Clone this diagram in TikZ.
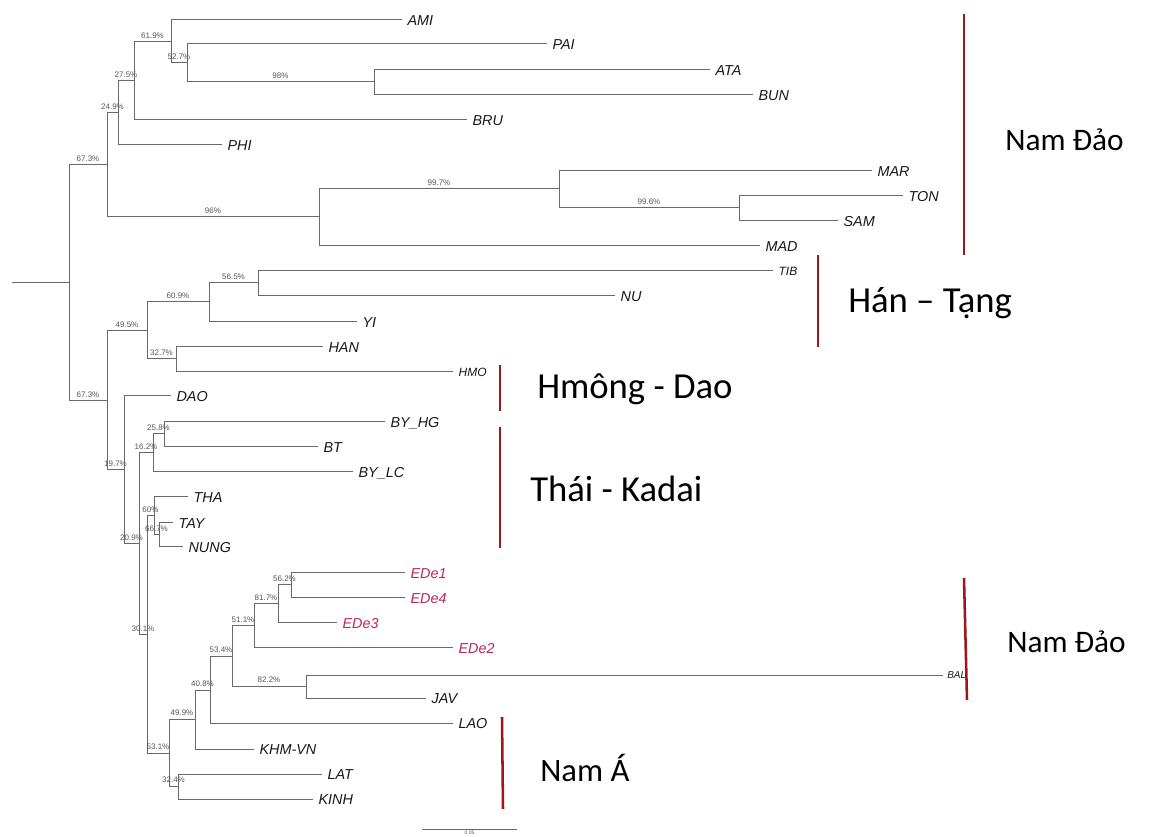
\documentclass[tikz,border=0pt]{standalone}
\usepackage{fontspec}
\setmainfont{Liberation Sans}
\newfontfamily\groupfont{Carlito}
\definecolor{treegray}{RGB}{105,105,105}
\definecolor{leafblack}{RGB}{25,25,25}
\definecolor{bootgray}{RGB}{85,85,85}
\definecolor{edecol}{RGB}{185,40,95}
\definecolor{barred}{RGB}{160,20,30}
\tikzset{
  br/.style={draw=treegray, line width=0.75pt},
  leaf/.style={anchor=west, inner xsep=4pt, inner ysep=0pt,
    font=\itshape\fontsize{10.8}{12}\selectfont, text=leafblack,
    text height=7.7pt, text depth=0pt},
  smallleaf/.style={leaf, font=\itshape\fontsize{9}{11}\selectfont, text height=6.4pt},
  tinyleaf/.style={leaf, font=\itshape\fontsize{7.5}{9}\selectfont, text height=5.4pt, inner xsep=3pt},
  ede/.style={leaf, text=edecol},
  boot/.style={font=\fontsize{6}{7}\selectfont, text=bootgray, inner sep=0pt,
    anchor=south, yshift=2.2pt},
  groupbar/.style={draw=barred, line width=1.9pt},
  grouplabel/.style={font=\groupfont\fontsize{27.5}{31}\selectfont, text=black,
    anchor=west, inner sep=0pt},
  narrowlabel/.style={grouplabel, font=\groupfont\fontsize{23.5}{28}\selectfont},
}
\begin{document}
\begin{tikzpicture}[x=0.75pt, y=-0.75pt]
\useasboundingbox[fill=white] (0,0) rectangle (1150,837);

% ---------- internal nodes of the tree ----------
\coordinate (rs) at (12,283);
\coordinate (r)  at (69,283);
% upper clade
\coordinate (n1) at (107,165);
\coordinate (n2) at (118,113);
\coordinate (n3) at (134,81);
\coordinate (n4) at (171,42);
\coordinate (n5) at (187,63);
\coordinate (n6) at (374,82);
\coordinate (n7) at (319,217);
\coordinate (n8) at (559,189);
\coordinate (n9) at (739,208);
% lower clade
\coordinate (m1)  at (107,401);
\coordinate (m2)  at (147,331);
\coordinate (m3)  at (209,302);
\coordinate (m4)  at (258,283);
\coordinate (m5)  at (176,359);
\coordinate (m6)  at (124,470);
\coordinate (m7)  at (139,544);
\coordinate (m8)  at (153,453);
\coordinate (m9)  at (164,434);
\coordinate (m10) at (147,635);
\coordinate (m11) at (154,516);
\coordinate (m12) at (159,535);
\coordinate (m13) at (169,753);
\coordinate (m14) at (195,719);
\coordinate (m15) at (210,690);
\coordinate (m16) at (232,656);
\coordinate (m17) at (254,626);
\coordinate (m18) at (278,604);
\coordinate (m19) at (291,585);
\coordinate (m20) at (306,686);
\coordinate (m21) at (178,786);

% ---------- taxa ----------
\node[leaf] (AMI) at (402,20)  {AMI};
\node[leaf] (PAI) at (547,44)  {PAI};
\node[leaf] (ATA) at (710,70)  {ATA};
\node[leaf] (BUN) at (753,95)  {BUN};
\node[leaf] (BRU) at (467,120) {BRU};
\node[leaf] (PHI) at (222,145) {PHI};
\node[leaf] (MAR) at (872,171) {MAR};
\node[leaf] (TON) at (903,196) {TON};
\node[leaf] (SAM) at (838,221) {SAM};
\node[leaf] (MAD) at (760,246) {MAD};
\node[smallleaf] (TIB) at (773,271) {TIB};
\node[leaf] (NU)  at (615,296) {NU};
\node[leaf] (YI)  at (357,322) {YI};
\node[leaf] (HAN) at (323,347) {HAN};
\node[smallleaf] (HMO) at (453,372) {HMO};
\node[leaf] (DAO) at (171,396) {DAO};
\node[leaf] (BYHG) at (385,422) {BY\_HG};
\node[leaf] (BT)  at (318,447) {BT};
\node[leaf] (BYLC) at (353,472) {BY\_LC};
\node[leaf] (THA) at (188,497) {THA};
\node[leaf] (TAY) at (173,523) {TAY};
\node[leaf] (NUNG) at (183,547) {NUNG};
\node[ede] (EDe1) at (405,573) {EDe1};
\node[ede] (EDe4) at (405,598) {EDe4};
\node[ede] (EDe3) at (337,623) {EDe3};
\node[ede] (EDe2) at (453,648) {EDe2};
\node[tinyleaf] (BAL) at (943,675) {BAL};
\node[leaf] (JAV) at (426,698) {JAV};
\node[leaf] (LAO) at (453,723) {LAO};
\node[leaf] (KHM) at (254,749) {KHM-VN};
\node[leaf] (LAT) at (322,774) {LAT};
\node[leaf] (KINH) at (313,799) {KINH};

% ---------- branches with bootstrap support ----------
\draw[br] (rs) -- (r);
\draw[br] (r) |- (n1) node[boot, pos=0.75] {67.3\%};
\draw[br] (r) |- (m1) node[boot, pos=0.75] {67.3\%};

\draw[br] (n1) |- (n2) node[boot, pos=0.75] {24.9\%};
\draw[br] (n1) |- (n7) node[boot, pos=0.75] {96\%};
\draw[br] (n2) |- (n3) node[boot, pos=0.75] {27.5\%};
\draw[br] (n2) |- (PHI.west);
\draw[br] (n3) |- (n4) node[boot, pos=0.75] {61.9\%};
\draw[br] (n3) |- (BRU.west);
\draw[br] (n4) |- (AMI.west);
\draw[br] (n4) |- (n5) node[boot, pos=0.75] {52.7\%};
\draw[br] (n5) |- (PAI.west);
\draw[br] (n5) |- (n6) node[boot, pos=0.75] {98\%};
\draw[br] (n6) |- (ATA.west);
\draw[br] (n6) |- (BUN.west);
\draw[br] (n7) |- (n8) node[boot, pos=0.75] {99.7\%};
\draw[br] (n7) |- (MAD.west);
\draw[br] (n8) |- (MAR.west);
\draw[br] (n8) |- (n9) node[boot, pos=0.75] {99.6\%};
\draw[br] (n9) |- (TON.west);
\draw[br] (n9) |- (SAM.west);

\draw[br] (m1) |- (m2) node[boot, pos=0.75] {49.5\%};
\draw[br] (m1) |- (m6) node[boot, pos=0.75] {19.7\%};
\draw[br] (m2) |- (m3) node[boot, pos=0.75] {60.9\%};
\draw[br] (m2) |- (m5) node[boot, pos=0.75] {32.7\%};
\draw[br] (m3) |- (m4) node[boot, pos=0.75] {56.5\%};
\draw[br] (m3) |- (YI.west);
\draw[br] (m4) |- (TIB.west);
\draw[br] (m4) |- (NU.west);
\draw[br] (m5) |- (HAN.west);
\draw[br] (m5) |- (HMO.west);
\draw[br] (m6) |- (DAO.west);
\draw[br] (m6) |- (m7) node[boot, pos=0.75] {20.9\%};
\draw[br] (m7) |- (m8) node[boot, pos=0.75] {16.2\%};
\draw[br] (m7) |- (m10) node[boot, pos=0.75] {30.1\%};
\draw[br] (m8) |- (m9) node[boot, pos=0.75] {25.8\%};
\draw[br] (m8) |- (BYLC.west);
\draw[br] (m9) |- (BYHG.west);
\draw[br] (m9) |- (BT.west);
\draw[br] (m10) |- (m11) node[boot, pos=0.75] {60\%};
\draw[br] (m10) |- (m13) node[boot, pos=0.75] {53.1\%};
\draw[br] (m11) |- (THA.west);
\draw[br] (m11) |- (m12) node[boot, pos=0.75] {66.7\%};
\draw[br] (m12) |- (TAY.west);
\draw[br] (m12) |- (NUNG.west);
\draw[br] (m13) |- (m14) node[boot, pos=0.75] {49.9\%};
\draw[br] (m13) |- (m21) node[boot, pos=0.75] {32.4\%};
\draw[br] (m14) |- (m15) node[boot, pos=0.75] {40.8\%};
\draw[br] (m14) |- (KHM.west);
\draw[br] (m15) |- (m16) node[boot, pos=0.75] {53.4\%};
\draw[br] (m15) |- (LAO.west);
\draw[br] (m16) |- (m17) node[boot, pos=0.75] {51.1\%};
\draw[br] (m16) |- (m20) node[boot, pos=0.75] {82.2\%};
\draw[br] (m17) |- (m18) node[boot, pos=0.75] {81.7\%};
\draw[br] (m17) |- (EDe2.west);
\draw[br] (m18) |- (m19) node[boot, pos=0.75] {56.2\%};
\draw[br] (m18) |- (EDe3.west);
\draw[br] (m19) |- (EDe1.west);
\draw[br] (m19) |- (EDe4.west);
\draw[br] (m20) |- (BAL.west);
\draw[br] (m20) |- (JAV.west);
\draw[br] (m21) |- (LAT.west);
\draw[br] (m21) |- (KINH.west);

% ---------- scale bar ----------
\coordinate (sbL) at (422,829);
\coordinate (sbR) at (517,829);
\draw[br, line width=0.6pt] (sbL) -- (sbR)
  node[midway, below=0.8pt, inner sep=0pt, font=\fontsize{3.8}{4.5}\selectfont, text=bootgray] {0.05};

% ---------- language family brackets ----------
\coordinate (b1t) at (964,14);  \coordinate (b1b) at (964,255);
\coordinate (b2t) at (818,255); \coordinate (b2b) at (818,347);
\coordinate (b3t) at (500,365); \coordinate (b3b) at (500,411);
\coordinate (b4t) at (500,427); \coordinate (b4b) at (500,548);
\coordinate (b5t) at (964,578); \coordinate (b5b) at (967,700);
\coordinate (b6t) at (502,717); \coordinate (b6b) at (503,809);
\draw[groupbar] (b1t) -- (b1b);
\draw[groupbar] (b2t) -- (b2b);
\draw[groupbar] (b3t) -- (b3b);
\draw[groupbar] (b4t) -- (b4b);
\draw[groupbar] (b5t) -- (b5b);
\draw[groupbar] (b6t) -- (b6b);

\node[narrowlabel] (g1) at (1005,140) {Nam Đảo};
\node[grouplabel] (g2) at (848,303) {Hán – Tạng};
\node[grouplabel] (g3) at (537,389) {Hmông - Dao};
\node[grouplabel] (g4) at (530,489) {Thái - Kadai};
\node[narrowlabel] (g5) at (1007,642) {Nam Đảo};
\node[narrowlabel, font=\groupfont\fontsize{24.5}{29}\selectfont] (g6) at (540,768) {Nam Á};
\end{tikzpicture}
\end{document}
